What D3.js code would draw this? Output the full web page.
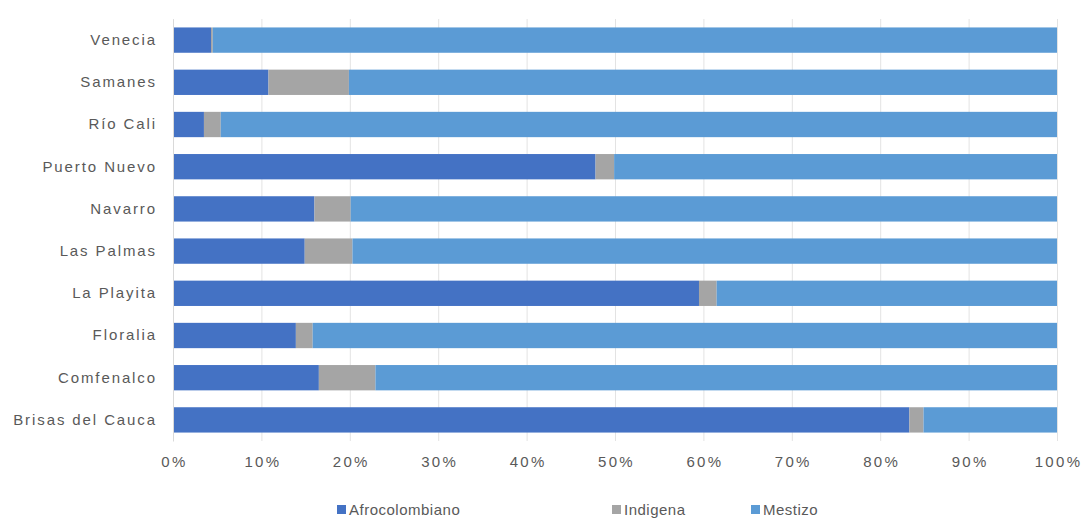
<!DOCTYPE html>
<html>
<head>
<meta charset="utf-8">
<script src="https://cdn.jsdelivr.net/npm/d3@7"></script>
<style>
  body { margin: 0; background: #fff; }
  text { font-family: "Liberation Sans", Arial, sans-serif; }
</style>
</head>
<body>
<div id="chart"></div>
<script>
// data (percent of each neighbourhood)
var barrios = ["Venecia", "Samanes", "Río Cali", "Puerto Nuevo", "Navarro", "Las Palmas",
               "La Playita", "Floralia", "Comfenalco", "Brisas del Cauca"];
var afro = [4.3, 10.8, 3.5, 47.8, 16.0, 14.9, 59.5, 13.9, 16.5, 83.3];
var indigena = [0.2, 9.1, 1.9, 2.1, 4.1, 5.4, 2.0, 1.9, 6.4, 1.6];
var mestizo = afro.map(function (a, i) { return 100 - a - indigena[i]; });
var seriesNames = ["Afrocolombiano", "Indigena", "Mestizo"];
var tickValues = [0, 10, 20, 30, 40, 50, 60, 70, 80, 90, 100];

var colors = { "Afrocolombiano": "#4472c4", "Indigena": "#a5a5a5", "Mestizo": "#5b9bd5" };

// set the dimensions and margins of the graph
var W = 1082, H = 519;
var margin = { top: 19, right: 25, bottom: 78, left: 173 },
    width = W - margin.left - margin.right,
    height = H - margin.top - margin.bottom;

var svg = d3.select("#chart")
    .append("svg")
    .attr("width", W)
    .attr("height", H)
    .append("g")
    .attr("transform", "translate(" + margin.left + "," + margin.top + ")");

// build rows for the stack
var rows = barrios.map(function (b, i) {
    return { barrio: b, "Afrocolombiano": afro[i], "Indigena": indigena[i], "Mestizo": mestizo[i] };
});
var stacked = d3.stack().keys(seriesNames)(rows);

var x = d3.scaleLinear().domain([0, 100]).range([0, width]);
var y = d3.scaleBand().domain(barrios).range([0, height]).paddingInner(0.4).paddingOuter(0.2);

// gridlines
svg.append("g")
    .attr("class", "grid")
    .call(d3.axisBottom(x).tickValues(tickValues).tickSize(height).tickFormat(""))
    .call(function (g) { g.select(".domain").remove(); })
    .selectAll("line")
    .attr("stroke", "#e3e3e3");

// bars
svg.selectAll(".serie")
    .data(stacked)
    .enter()
    .append("g")
    .attr("fill", function (d) { return colors[d.key]; })
    .selectAll("rect")
    .data(function (d) { return d; })
    .enter()
    .append("rect")
    .attr("x", function (d) { return x(d[0]); })
    .attr("width", function (d) { return x(d[1]) - x(d[0]); })
    .attr("y", function (d) { return y(d.data.barrio); })
    .attr("height", y.bandwidth());

// y axis labels
svg.append("g")
    .call(d3.axisLeft(y).tickSize(0).tickPadding(16))
    .call(function (g) { g.select(".domain").attr("stroke", "#d9d9d9"); })
    .selectAll("text")
    .attr("fill", "#595959")
    .style("font-size", "15px")
    .style("letter-spacing", "1.9px");

// x axis labels
svg.append("g")
    .attr("transform", "translate(0," + height + ")")
    .call(d3.axisBottom(x).tickValues(tickValues).tickSize(0).tickPadding(15)
        .tickFormat(function (d) { return d + "%"; }))
    .call(function (g) { g.select(".domain").remove(); })
    .selectAll("text")
    .attr("fill", "#595959")
    .attr("dx", "1px")
    .style("font-size", "15px")
    .style("letter-spacing", "2.3px");

// legend
var legendX = [337, 612, 751];
var legend = svg.selectAll(".legend")
    .data(seriesNames)
    .enter()
    .append("g")
    .attr("transform", function (d, i) {
        return "translate(" + (legendX[i] - margin.left) + "," + (510 - margin.top) + ")";
    });
legend.append("rect")
    .attr("x", 0).attr("y", -5)
    .attr("width", 9).attr("height", 9)
    .attr("fill", function (d) { return colors[d]; });
legend.append("text")
    .attr("x", 12).attr("y", 0)
    .attr("dy", "0.35em")
    .attr("fill", "#595959")
    .style("font-size", "15px")
    .style("letter-spacing", "0.5px")
    .text(function (d) { return d; });
</script>
</body>
</html>
